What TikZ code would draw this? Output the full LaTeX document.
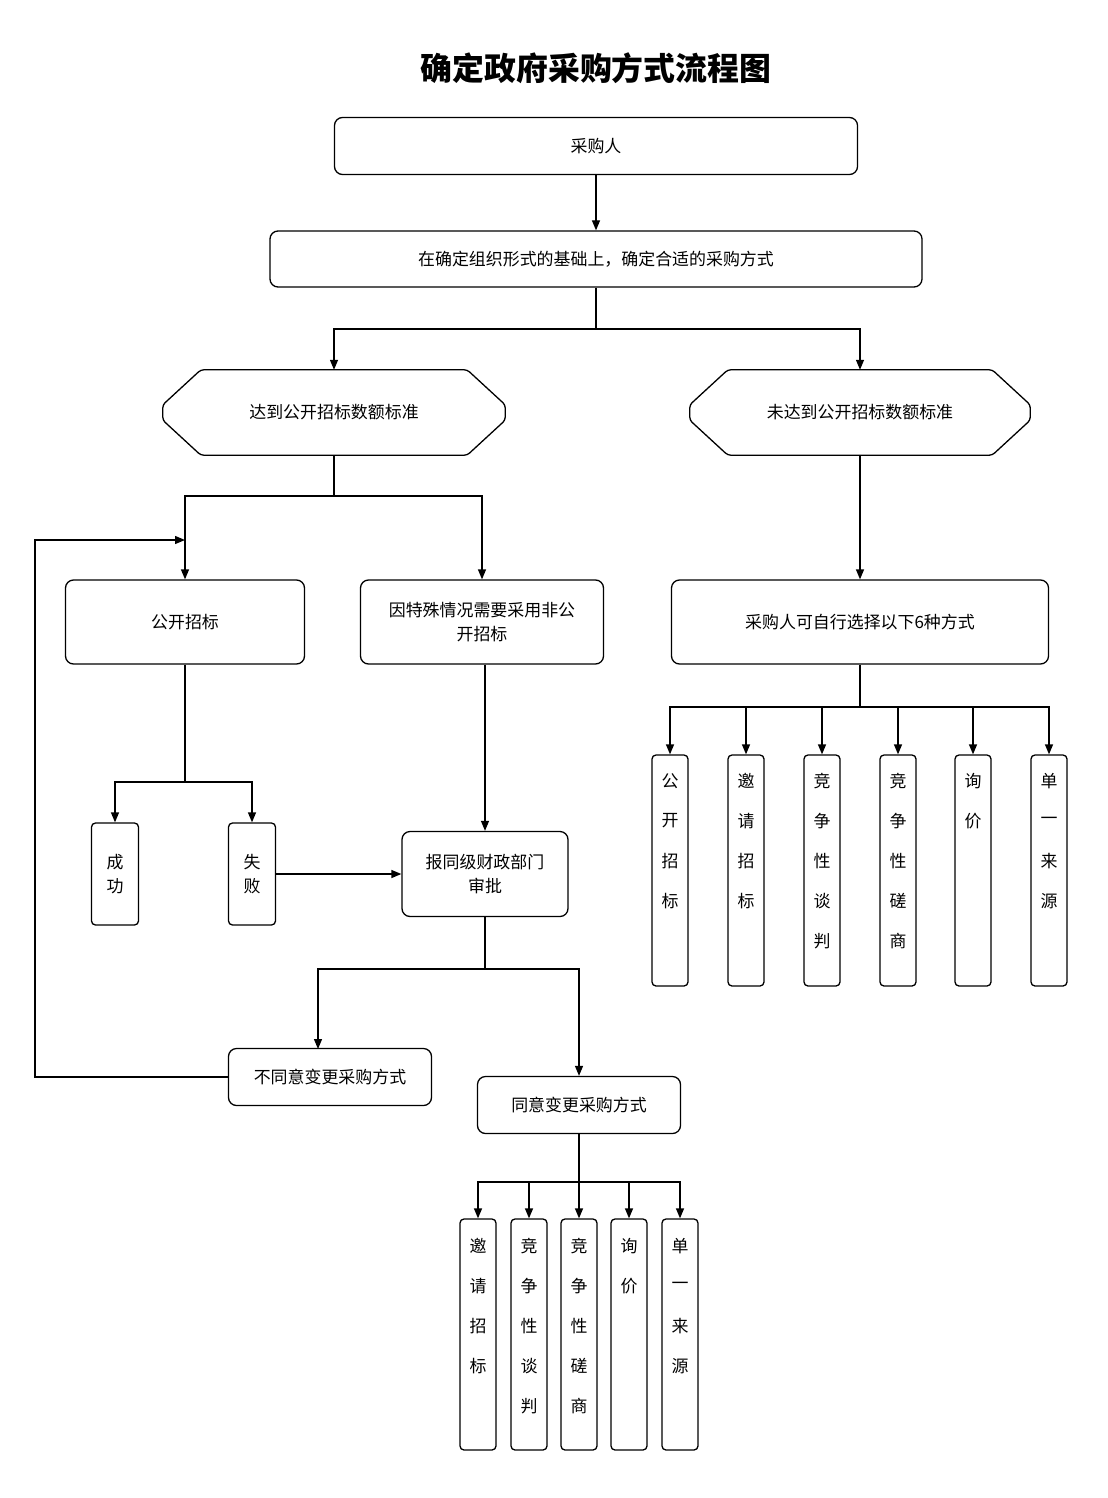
\documentclass[tikz,border=0pt]{standalone}
\usepackage{fontspec}
\setmainfont{Noto Sans CJK SC}
\usetikzlibrary{arrows.meta}
\begin{document}
\begin{tikzpicture}[x=1bp,y=-1bp,
  box/.style={draw,line width=1.3pt,rounded corners=8bp,align=center,inner sep=0pt,font=\fontsize{17}{24}\selectfont},
  vbox/.style={draw,line width=1.3pt,rounded corners=4bp,minimum width=36bp,minimum height=231bp,inner sep=0pt},
  ch/.style={font=\fontsize{17}{20}\selectfont},
  oct/.style={minimum height=85bp,inner sep=0pt,font=\fontsize{17}{24}\selectfont},
  octline/.style={line width=1.3pt,rounded corners=3bp},
  arr/.style={line width=1.3pt,-{Triangle[length=10bp,width=8bp]}},
  ln/.style={line width=1.3pt}]
\useasboundingbox (0,0) rectangle (1107,1498);
\node[font=\bfseries\fontsize{32}{36}\selectfont] (t) at (596,68) {确定政府采购方式流程图};
\node[box,minimum width=523bp,minimum height=57bp] (a) at (596,146) {采购人};
\node[box,minimum width=652bp,minimum height=56bp] (b) at (596,259) {在确定组织形式的基础上，确定合适的采购方式};
\node[oct,minimum width=342bp] (l) at (334,412.5) {达到公开招标数额标准};
\node[oct,minimum width=340bp] (r) at (860,412.5) {未达到公开招标数额标准};
\foreach \o in {l,r}
  \draw[octline] ([xshift=38bp]\o.north west) -- ([xshift=-38bp]\o.north east) -- ([yshift=-35bp]\o.north east) -- ([yshift=35bp]\o.south east) -- ([xshift=-38bp]\o.south east) -- ([xshift=38bp]\o.south west) -- ([yshift=35bp]\o.south west) -- ([yshift=-35bp]\o.north west) -- cycle;
\node[box,minimum width=239bp,minimum height=84bp] (g) at (185,622) {公开招标};
\node[box,minimum width=243bp,minimum height=84bp] (s) at (482,622) {因特殊情况需要采用非公\\开招标};
\node[box,minimum width=377bp,minimum height=84bp] (z) at (860,622) {采购人可自行选择以下6种方式};
\node[box,rounded corners=4bp,minimum width=47bp,minimum height=102bp] (cg) at (115,874) {成\\功};
\node[box,rounded corners=4bp,minimum width=47bp,minimum height=102bp] (sb) at (252,874) {失\\败};
\node[box,minimum width=166bp,minimum height=85bp] (bt) at (485,874) {报同级财政部门\\审批};
\node[box,minimum width=203bp,minimum height=57bp] (bty) at (330,1077) {不同意变更采购方式};
\node[box,minimum width=203bp,minimum height=57bp] (ty) at (579,1105) {同意变更采购方式};
\foreach \n/\x/\t in {r1/670/{公,开,招,标},r2/746/{邀,请,招,标},r3/822/{竞,争,性,谈,判},r4/898/{竞,争,性,磋,商},r5/973/{询,价},r6/1049/{单,一,来,源}}{
  \node[vbox] (\n) at (\x,870.5) {};
  \foreach [count=\i] \c in \t \node[ch] (\n c\i) at (\x,741+40*\i) {\c};}
\foreach \n/\x/\t in {q1/478/{邀,请,招,标},q2/529/{竞,争,性,谈,判},q3/579/{竞,争,性,磋,商},q4/629/{询,价},q5/680/{单,一,来,源}}{
  \node[vbox] (\n) at (\x,1334.5) {};
  \foreach [count=\i] \c in \t \node[ch] (\n c\i) at (\x,1206+40*\i) {\c};}
% edges
\draw[arr] (a) -- (b);
\coordinate (b1) at (596,329);
\draw[ln] (b) -- (b1);
\draw[arr] (b1) -| (l);
\draw[arr] (b1) -| (r);
\coordinate (l1) at (334,496);
\draw[ln] (l) -- (l1);
\draw[arr] (l1) -| (g);
\draw[arr] (l1) -| (s);
\coordinate (g1) at (185,782);
\draw[ln] (g) -- (g1);
\draw[arr] (g1) -| (cg);
\draw[arr] (g1) -| (sb);
\draw[arr] (sb) -- (bt);
\draw[arr] (s.south -| bt) -- (bt);
\coordinate (bt1) at (485,969);
\draw[ln] (bt) -- (bt1);
\draw[arr] (bt1) -| (318,1049);
\draw[arr] (bt1) -| (ty);
\coordinate (fb) at (185,540);
\draw[arr] (bty.west) -| (35,540) -- (fb);
\draw[arr] (r) -- (z);
\coordinate (z1) at (860,707);
\draw[ln] (z) -- (z1);
\foreach \n in {r1,r2,r3,r4,r5,r6} \draw[arr] (z1) -| (\n.north);
\coordinate (ty1) at (579,1182);
\draw[ln] (ty) -- (ty1);
\foreach \n in {q1,q2,q3,q4,q5} \draw[arr] (ty1) -| (\n.north);
\end{tikzpicture}
\end{document}
